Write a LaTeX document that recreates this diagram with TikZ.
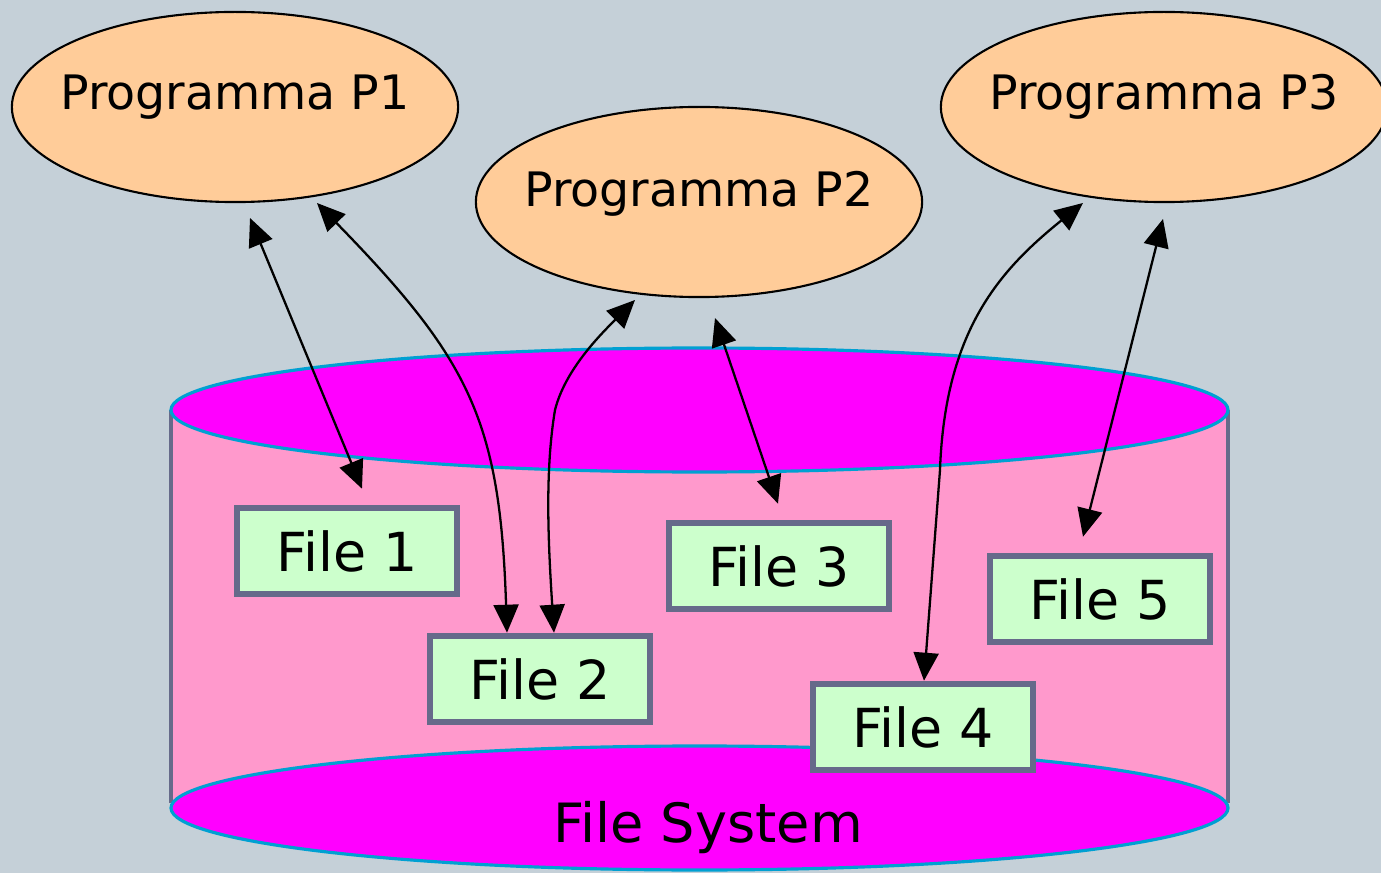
\documentclass[tikz,border=0pt]{standalone}
\usepackage{fontspec}
\setmainfont{DejaVu Sans}
\usetikzlibrary{shapes.geometric,arrows.meta,calc}
\definecolor{bgc}{RGB}{197,208,216}
\definecolor{progc}{RGB}{255,204,153}
\definecolor{bodyc}{RGB}{255,153,204}
\definecolor{capc}{RGB}{255,0,255}
\definecolor{rimc}{RGB}{0,160,210}
\definecolor{grayc}{RGB}{102,106,138}
\definecolor{filec}{RGB}{204,255,204}
\newcommand{\progtext}[2]{\smash{\makebox[0pt]{\raisebox{#1}{#2}}}}
\tikzset{
  prog/.style={ellipse, draw=black, line width=0.6pt, fill=progc,
    minimum width=4.46cm, minimum height=1.9cm, inner sep=0pt,
    font=\fontsize{13.5}{16}\selectfont},
  filebox/.style={rectangle, draw=grayc, line width=1.85pt, fill=filec,
    minimum width=2.2cm, minimum height=0.86cm, inner sep=0pt,
    font=\fontsize{15.3}{18}\selectfont},
  cylcap/.style={draw=rimc, line width=0.9pt, fill=capc},
  dar/.style={{Triangle[length=2.8mm,width=2.5mm]}-{Triangle[length=2.8mm,width=2.5mm]},
    line width=0.65pt, black}
}
\begin{document}
\begin{tikzpicture}[x=0.01cm,y=-0.01cm]
\fill[bgc] (0,0) rectangle (1381,873);
\useasboundingbox (0,0) rectangle (1381,873);
% cylinder
\fill[bodyc] (171,410) rectangle (1228,808);
\draw[grayc, line width=1.35pt] (171,410) -- (171,803);
\draw[grayc, line width=1.35pt] (1228,410) -- (1228,803);
\draw[cylcap] (699.5,808) ellipse [x radius=528.5, y radius=62];
\draw[cylcap] (699.5,410) ellipse [x radius=528.5, y radius=62];
\node[font=\fontsize{15.4}{18}\selectfont, anchor=base] (fs) at (708,842) {File System};
% programs
\node[prog] (p1) at (235,107) {\progtext{-0.03cm}{Programma P1}};
\node[prog] (p2) at (699,202) {\progtext{-0.05cm}{Programma P2}};
\node[prog] (p3) at (1164,107) {\progtext{-0.03cm}{Programma P3}};
% files
\node[filebox] (f1) at (347,551) {File 1};
\node[filebox] (f2) at (540,679) {File 2};
\node[filebox] (f3) at (779,566) {File 3};
\node[filebox] (f4) at (923,727) {File 4};
\node[filebox] (f5) at (1100,599) {File 5};
% connectors
\draw[dar] ($(p1)+(15,111)$) -- ($(f1.north)+(15,-16)$);
\draw[dar] ($(p1)+(82,96)$) .. controls (470,360) and (500,420) .. ($(f2.north)+(-33,0)$);
\draw[dar] ($(p2)+(-64,98)$) .. controls (600,335) and (565,370) .. (555,410)
  .. controls (545,470) and (548,540) .. ($(f2.north)+(14,0)$);
\draw[dar] ($(p2)+(16,116)$) -- ($(f3.north)+(-1,-16)$);
\draw[dar] ($(p3)+(-81,96)$) .. controls (1000,270) and (945,330) .. (940,470)
  -- ($(f4.north)+(1,0)$);
\draw[dar] ($(p3)+(-1,112)$) -- ($(f5.north)+(-17,-16)$);
\end{tikzpicture}
\end{document}
